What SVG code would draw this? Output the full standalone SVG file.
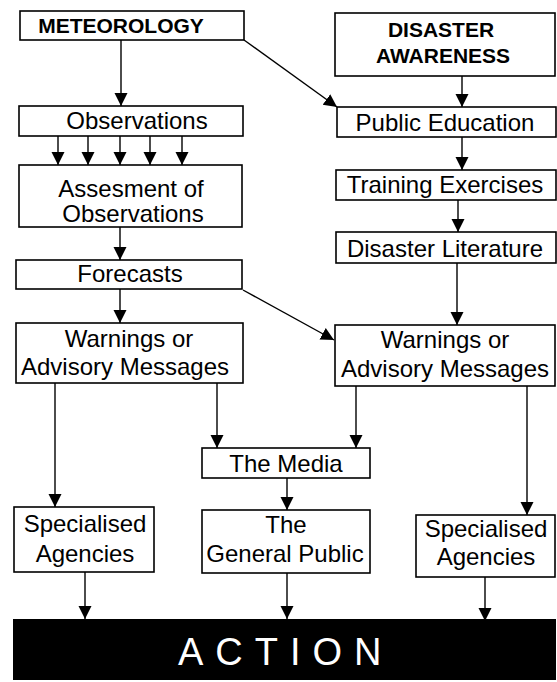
<svg xmlns="http://www.w3.org/2000/svg" width="557" height="682" viewBox="0 0 557 682">
<style>
.box{fill:#fff;stroke:#000;stroke-width:1.6}
.t{font-family:"Liberation Sans",Arial,sans-serif;font-size:24px;fill:#000;text-anchor:middle}
.b{font-family:"Liberation Sans",Arial,sans-serif;font-size:21px;font-weight:bold;fill:#000;text-anchor:middle}
.c line{stroke:#000;stroke-width:1.4;marker-end:url(#ah)}
</style>
<defs>
<marker id="ah" markerUnits="userSpaceOnUse" markerWidth="14" markerHeight="14" refX="13" refY="6.5" orient="auto">
<path d="M0,0 L13,6.5 L0,13 z" fill="#000"/>
</marker>
</defs>
<rect width="557" height="682" fill="#fff"/>
<g id="meteorology"><rect class="box" x="20" y="11" width="224" height="29"/><text class="b" x="121" y="33">METEOROLOGY</text></g>
<g id="disaster-awareness"><rect class="box" x="335" y="13" width="220" height="63"/><text class="b" x="441" y="37">DISASTER</text><text class="b" x="443" y="63">AWARENESS</text></g>
<g id="observations"><rect class="box" x="19" y="106" width="224" height="30"/><text class="t" x="137" y="129">Observations</text></g>
<g id="assessment"><rect class="box" x="19" y="165" width="223" height="62"/><text class="t" x="131" y="197">Assesment of</text><text class="t" x="133" y="222">Observations</text></g>
<g id="forecasts"><rect class="box" x="16" y="260" width="226" height="29"/><text class="t" x="130" y="282">Forecasts</text></g>
<g id="warnings-left"><rect class="box" x="16" y="323" width="227" height="60"/><text class="t" x="129" y="347">Warnings or</text><text class="t" x="125" y="375">Advisory Messages</text></g>
<g id="public-education"><rect class="box" x="337" y="107" width="219" height="30"/><text class="t" x="445" y="131">Public Education</text></g>
<g id="training-exercises"><rect class="box" x="336" y="170" width="220" height="30"/><text class="t" x="445" y="193">Training Exercises</text></g>
<g id="disaster-literature"><rect class="box" x="336" y="232" width="220" height="31"/><text class="t" x="445" y="257">Disaster Literature</text></g>
<g id="warnings-right"><rect class="box" x="335" y="325" width="220" height="61"/><text class="t" x="445" y="348">Warnings or</text><text class="t" x="445" y="377">Advisory Messages</text></g>
<g id="media"><rect class="box" x="202" y="448" width="168" height="30"/><text class="t" x="286" y="472">The Media</text></g>
<g id="general-public"><rect class="box" x="202" y="510" width="168" height="63"/><text class="t" x="286" y="533">The</text><text class="t" x="285" y="562">General Public</text></g>
<g id="specialised-left"><rect class="box" x="14" y="507" width="140" height="65"/><text class="t" x="85" y="532">Specialised</text><text class="t" x="85" y="562">Agencies</text></g>
<g id="specialised-right"><rect class="box" x="416" y="515" width="139" height="62"/><text class="t" x="486" y="537">Specialised</text><text class="t" x="486" y="565">Agencies</text></g>
<g id="action"><rect x="13" y="619" width="543" height="61" fill="#000"/><text x="178" y="665" font-family="'Liberation Sans',Arial,sans-serif" font-size="38" letter-spacing="12" fill="#fff">ACTION</text></g>
<g id="connectors" class="c">
<line x1="121" y1="40" x2="121" y2="106"/>
<line x1="244" y1="40" x2="337" y2="107"/>
<line x1="58" y1="136" x2="58" y2="165"/>
<line x1="88" y1="136" x2="88" y2="165"/>
<line x1="120" y1="136" x2="120" y2="165"/>
<line x1="150" y1="136" x2="150" y2="165"/>
<line x1="182" y1="136" x2="182" y2="165"/>
<line x1="462" y1="76" x2="462" y2="107"/>
<line x1="462" y1="137" x2="462" y2="170"/>
<line x1="458" y1="200" x2="458" y2="232"/>
<line x1="120" y1="227" x2="120" y2="260"/>
<line x1="120" y1="289" x2="120" y2="323"/>
<line x1="243" y1="290" x2="334" y2="340"/>
<line x1="457" y1="263" x2="457" y2="325"/>
<line x1="55" y1="383" x2="55" y2="507"/>
<line x1="217" y1="383" x2="217" y2="448"/>
<line x1="356" y1="386" x2="356" y2="448"/>
<line x1="527" y1="386" x2="527" y2="515"/>
<line x1="287" y1="478" x2="287" y2="510"/>
<line x1="85" y1="572" x2="85" y2="619"/>
<line x1="287" y1="573" x2="287" y2="619"/>
<line x1="485" y1="577" x2="485" y2="621"/>
</g>
</svg>
